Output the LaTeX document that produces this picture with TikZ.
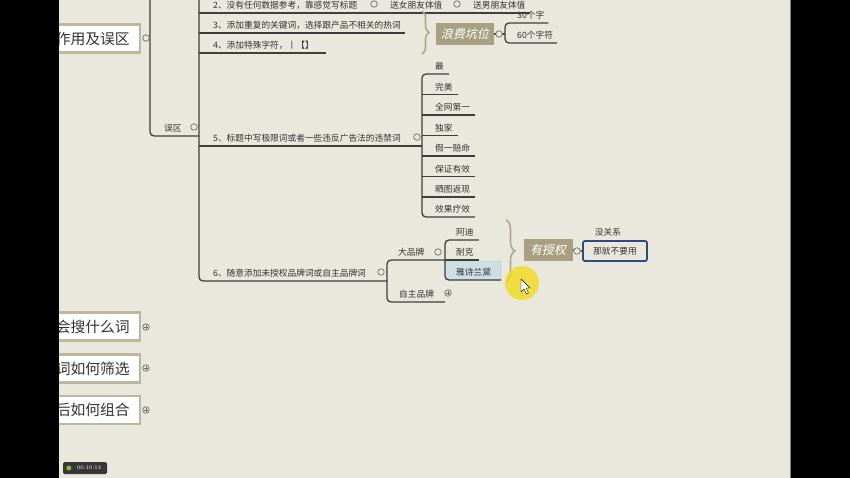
\documentclass[tikz,border=0pt]{standalone}
\usepackage{fontspec}
\newfontfamily\cjk{Noto Sans CJK SC}
\newfontfamily\cjkit[FakeSlant=0.2]{Noto Sans CJK SC}
\usetikzlibrary{decorations.pathreplacing}

\begin{document}
\begin{tikzpicture}[x=1pt, y=-1pt,
    branch/.style={draw=linegray, line width=1.3pt, rounded corners=4pt},
    item/.style={font=\cjk\fontsize{8.7}{10}\selectfont, text=textgray, inner xsep=4pt, inner ysep=3.5pt, anchor=south west},
    leaf/.style={item, inner xsep=5pt},
    topic/.style={font=\cjk\fontsize{14.8}{16}\selectfont, text=textgray, fill=white, draw=boxrim, line width=2.5pt, inner xsep=10pt, minimum height=28pt, anchor=east},
    tag/.style={font=\cjkit\fontsize{12}{14}\selectfont, text=white, fill=tagolive, minimum height=22pt, inner xsep=5pt},
    fold/.style={circle, draw=foldgray, fill=paper, line width=0.7pt, inner sep=0pt, minimum size=6.5pt},
    plusfold/.style={fold, path picture={\draw[foldgray, line width=0.5pt] ([xshift=-2pt]path picture bounding box.center) -- ([xshift=2pt]path picture bounding box.center) ([yshift=-2pt]path picture bounding box.center) -- ([yshift=2pt]path picture bounding box.center);}},
    curly/.style={draw=bracebeige, line width=1.6pt, decorate, decoration={brace, amplitude=#1}}
  ]

    % Define custom colors
    \definecolor{paper}{RGB}{234, 231, 220}
    \definecolor{linegray}{RGB}{62, 62, 62}
    \definecolor{textgray}{RGB}{50, 50, 50}
    \definecolor{boxrim}{RGB}{190, 183, 160}
    \definecolor{tagolive}{RGB}{168, 160, 128}
    \definecolor{foldgray}{RGB}{110, 110, 110}
    \definecolor{bracebeige}{RGB}{175, 166, 140}
    \definecolor{hilite}{RGB}{205, 222, 228}
    \definecolor{hiliteline}{RGB}{165, 190, 200}
    \definecolor{navy}{RGB}{45, 75, 130}
    \definecolor{timergray}{RGB}{55, 55, 55}
    \definecolor{timergreen}{RGB}{130, 190, 40}
    \definecolor{cursorlight}{RGB}{240, 220, 40}

    \useasboundingbox (0,0) rectangle (850,478);

    % 1. Canvas
    \fill[paper] (0,0) rectangle (850,478);
    \draw[gray, line width=1pt] (790,0) -- (790,478);

    % 2. Highlighted leaf
    \draw[fill=hilite, draw=hiliteline, rounded corners=2pt] (445,261) rectangle (501,280);

    % 3. Left topics
    \node[topic] (zuoyong) at (141,38.5) {作用及误区};
    \node[topic] (huisou) at (141,326.5) {会搜什么词};
    \node[topic] (shaixuan) at (141,368.5) {词如何筛选};
    \node[topic] (zuhe) at (141,410) {后如何组合};

    % 4. Branch "误区" and its items
    \coordinate (top1) at (150,-5);
    \coordinate (top2) at (199,-5);
    \node[item] (wuqu) at (160,136) {误区};
    \draw[branch] (top1) -- (top1 |- wuqu.south) -- (top2 |- wuqu.south);

    \node[item] (xiu2) at (209,13) {2、没有任何数据参考，靠感觉写标题};
    \node[item] (nvyou) at (386,13) {送女朋友体值};
    \node[item] (nanyou) at (469,13) {送男朋友体值};
    \node[item] (xiu3) at (209,33) {3、添加重复的关键词，选择跟产品不相关的热词};
    \node[item] (xiu4) at (209,53) {4、添加特殊字符，丨【】};
    \node[item] (xiu5) at (209,146) {5、标题中写极限词或者一些违反广告法的违禁词};
    \node[item] (xiu6) at (209,281) {6、随意添加未授权品牌词或自主品牌词};

    \coordinate (b5) at (422,146);
    \coordinate (b6) at (387,281);
    \coordinate (b7) at (445,260);

    \draw[branch] (top2) -- (top2 |- xiu6.south) -- (b6);
    \draw[branch] (top2 |- xiu2.south) -- (nanyou.south east);
    \draw[branch] (top2 |- xiu3.south) -- (xiu3.south east);
    \draw[branch] (top2 |- xiu4.south) -- ([xshift=8pt]xiu4.south east);
    \draw[branch] (top2 |- xiu5.south) -- (b5);

    % 5. Summary "浪费坑位"
    \draw[curly=7pt] (422,11) -- (422,54);
    \node[tag] (langfei) at (465,34) {浪费坑位};
    \coordinate (b2) at (505,34);
    \node[item] (zi30) at (513,23) {30个字};
    \node[item] (zi60) at (513,43) {60个字符};
    \draw[branch] (langfei.east) -- (b2);
    \draw[branch] (zi30.south east) -- (b2 |- zi30.south) -- (b2 |- zi60.south) -- (zi60.south east);

    % 6. Leaves of item 5
    \node[leaf] (zui) at (430,74) {最};
    \node[leaf] (wanmei) at (430,94.5) {完美};
    \node[leaf] (diyi) at (430,115) {全网第一};
    \node[leaf] (dujia) at (430,135.5) {独家};
    \node[leaf] (peiming) at (430,156) {假一赔命};
    \node[leaf] (youxiao) at (430,176.5) {保证有效};
    \node[leaf] (fanxian) at (430,197) {晒图返现};
    \node[leaf] (liaoxiao) at (430,217) {效果疗效};
    \draw[branch] (zui.south east) -- (b5 |- zui.south) -- (b5 |- liaoxiao.south) -- (liaoxiao.south east);
    \foreach \n in {wanmei, diyi, dujia, peiming, youxiao, fanxian}
        \draw[branch] (b5 |- \n.south) -- (\n.south east);

    % 7. Brands of item 6
    \node[item] (dapinpai) at (394,260) {大品牌};
    \node[item] (zizhu) at (395,302) {自主品牌};
    \draw[branch] (b7) -- (b6 |- dapinpai.south) -- (b6 |- zizhu.south) -- (b7 |- zizhu.south);

    \node[leaf] (adi) at (451,240) {阿迪};
    \node[leaf] (naike) at (451,260) {耐克};
    \node[leaf] (yashi) at (451,280) {雅诗兰黛};
    \draw[branch] (adi.south east) -- (b7 |- adi.south) -- (b7 |- yashi.south) -- ([xshift=5pt]yashi.south east);
    \draw[branch] (b7) -- (naike.south east);

    % 8. Summary "有授权"
    \draw[curly=9pt] (506,220) -- (506,282);
    \node[tag, minimum width=49pt] (shouquan) at (548,250) {有授权};
    \node[draw=navy, line width=1.8pt, fill=paper, rounded corners=2pt, minimum width=64pt, minimum height=20pt,
          font=\cjk\fontsize{8.7}{10}\selectfont, text=textgray] (buyao) at (615,251) {那就不要用};
    \node[font=\cjk\fontsize{8.7}{10}\selectfont, text=textgray] (meiguanxi) at (608,232) {没关系};
    \draw[branch] (shouquan.east) -- (buyao.west);

    % 9. Fold markers
    \node[fold] (fzuoyong) at (146,38) {};
    \node[plusfold] (fhuisou) at (146,327) {};
    \node[plusfold] (fshaixuan) at (146,368) {};
    \node[plusfold] (fzuhe) at (146,410) {};
    \node[fold] (fwuqu) at (194,127) {};
    \node[fold] (fxiu2) at (374,4) {};
    \node[fold] (fnvyou) at (457,4) {};
    \node[fold] (flangfei) at (499,34) {};
    \node[fold] (fxiu5) at (417,137) {};
    \node[fold] (fxiu6) at (381,272) {};
    \node[fold] (fdapinpai) at (438,252) {};
    \node[plusfold] (fzizhu) at (448,293) {};
    \node[fold] (fshouquan) at (577,251) {};

    % 10. Mouse pointer
    \fill[cursorlight, opacity=0.85] (522,283) circle (17);
    \draw[black, fill=white, line width=0.4pt, line join=round]
        (521,279) -- (521,292) -- (524,289) -- (526.5,294) -- (528.5,293) -- (526,288) -- (530,288) -- cycle;

    % 11. Screen borders and timer
    \fill[black] (0,0) rectangle (59,478);
    \fill[black] (790.5,0) rectangle (850,478);
    \node[fill=timergray, rounded corners=1.5pt, text=white, font=\fontsize{5.5}{6}\selectfont,
          minimum width=44pt, minimum height=12pt, inner sep=1pt] (timer) at (85,468) {\hspace{8pt}00:10:13};
    \fill[timergreen] ([xshift=6pt]timer.west) circle (2.5);

\end{tikzpicture}
\end{document}
